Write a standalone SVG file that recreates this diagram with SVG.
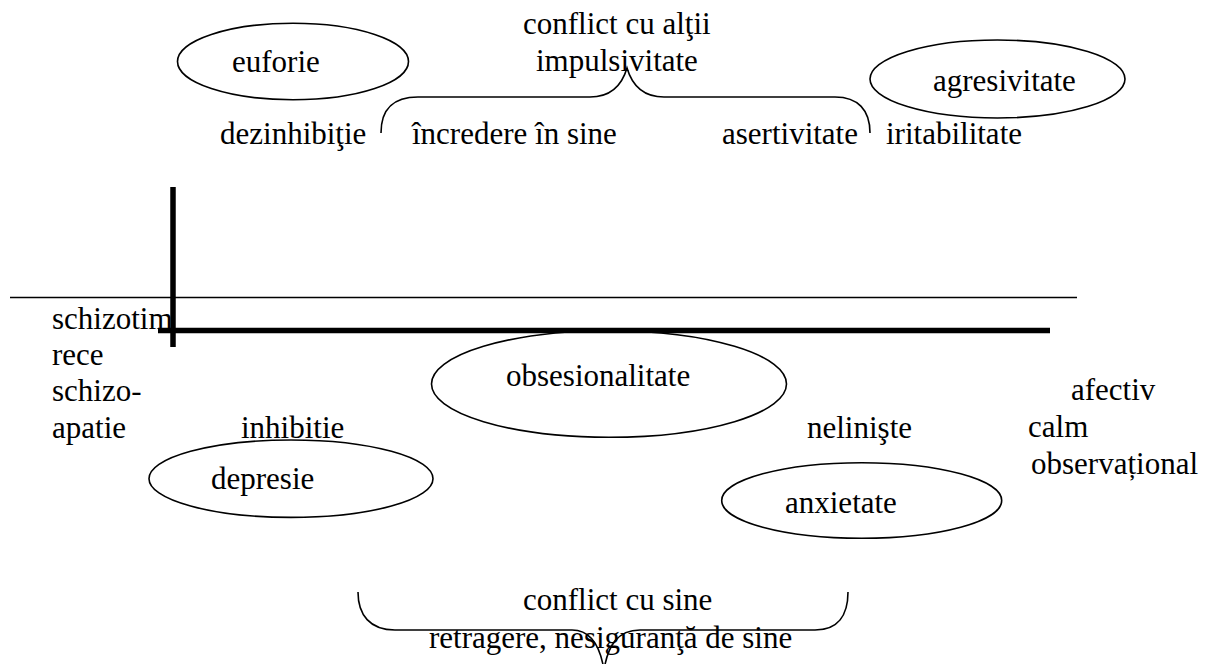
<svg xmlns="http://www.w3.org/2000/svg" width="1216" height="664" viewBox="0 0 1216 664">
  <style>
    text { font-family: "Liberation Serif", "Times New Roman", serif; font-size: 31px; fill: #000; }
    .oval { fill: none; stroke: #000; stroke-width: 1.6; }
    .brace { fill: none; stroke: #000; stroke-width: 1.6; }
    .axis { stroke: #000; stroke-width: 5.5; }
    .thin { stroke: #000; stroke-width: 1.3; }
  </style>
  <rect width="1216" height="664" fill="#fff"/>

  <!-- axes -->
  <g id="connectors">
    <line class="thin" x1="10" y1="297.5" x2="1077" y2="297.5"/>
    <line class="axis" x1="173" y1="187" x2="173" y2="347"/>
    <line class="axis" x1="158" y1="330.5" x2="1050" y2="330.5"/>
    <!-- upper brace -->
    <path class="brace" d="M381,133 C381,110 392,97 418,97 L590,97 C612,97 622,85 627,68 C632,85 642,97 664,97 L835,97 C858,97 870,110 870,133"/>
    <!-- lower brace -->
    <path class="brace" d="M358,592 C358,615 370,630 395,630 L572,630 C590,630 600,645 604,670 C608,645 618,630 640,630 L815,630 C838,630 848,615 848,592"/>
  </g>

  <g id="conflict-altii">
    <text x="523" y="34">conflict cu alţii</text>
    <text x="536" y="71">impulsivitate</text>
  </g>
  <g id="euforie">
    <ellipse class="oval" cx="293" cy="61.5" rx="115.5" ry="38.3"/>
    <text x="232" y="72">euforie</text>
  </g>
  <g id="agresivitate">
    <ellipse class="oval" cx="997.5" cy="79" rx="127.5" ry="39"/>
    <text x="933" y="91">agresivitate</text>
  </g>
  <g id="dezinhibitie"><text x="220" y="144">dezinhibiţie</text></g>
  <g id="incredere"><text x="412" y="143.5">încredere în sine</text></g>
  <g id="asertivitate"><text x="722" y="143.5">asertivitate</text></g>
  <g id="iritabilitate"><text x="886" y="143.5">iritabilitate</text></g>

  <g id="schizotim">
    <text x="52" y="329">schizotim</text>
    <text x="52" y="365">rece</text>
    <text x="52" y="401">schizo-</text>
    <text x="52" y="437.5">apatie</text>
  </g>
  <g id="obsesionalitate">
    <ellipse class="oval" cx="609" cy="384" rx="177.5" ry="53.3"/>
    <text x="506" y="386">obsesionalitate</text>
  </g>
  <g id="inhibitie"><text x="241" y="438">inhibitie</text></g>
  <g id="depresie">
    <ellipse class="oval" cx="291" cy="478.7" rx="142" ry="38.7"/>
    <text x="211" y="489">depresie</text>
  </g>
  <g id="nelinişte"><text x="807" y="438">nelinişte</text></g>
  <g id="anxietate">
    <ellipse class="oval" cx="861.7" cy="500.5" rx="140" ry="37.8"/>
    <text x="785" y="513">anxietate</text>
  </g>
  <g id="afectiv">
    <text x="1071" y="400">afectiv</text>
    <text x="1028" y="437">calm</text>
    <text x="1031" y="474">observațional</text>
  </g>
  <g id="conflict-sine">
    <text x="523" y="610">conflict cu sine</text>
    <text x="429" y="648">retragere, nesiguranţă de sine</text>
  </g>
</svg>
